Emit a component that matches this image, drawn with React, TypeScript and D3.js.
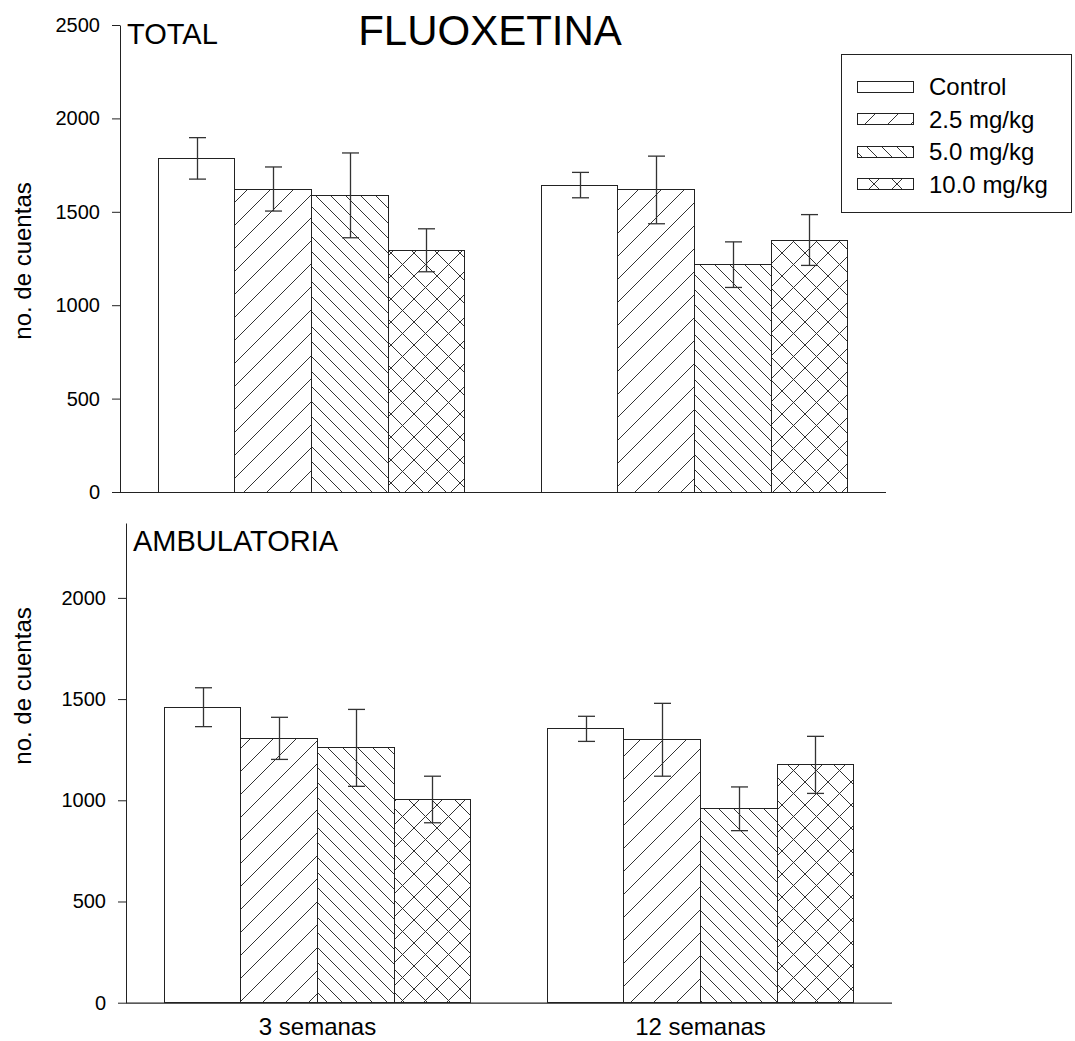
import { useEffect, useRef } from "react";
import * as d3 from "d3";

const GROUPS = ["3 semanas", "12 semanas"];
const DOSES = ["Control", "2.5 mg/kg", "5.0 mg/kg", "10.0 mg/kg"];
const FILLS = ["white", "url(#hFwd)", "url(#hBack)", "url(#hCross)"];

// TOTAL panel: means and error (per group, per dose)
const TOTAL_MEAN = [[1786, 1622, 1588, 1294], [1643, 1617, 1217, 1349]];
const TOTAL_ERR = [[111, 118, 227, 115], [68, 181, 122, 136]];
// AMBULATORIA panel
const AMB_MEAN = [[1460, 1306, 1259, 1004], [1353, 1299, 958, 1175]];
const AMB_ERR = [[96, 104, 190, 115], [62, 180, 108, 141]];

const Y_TICKS = [0, 500, 1000, 1500, 2000, 2500];

const FONT = "'Liberation Sans', Arial, sans-serif";
const INK = "#222";

export default function App() {
  const svgRef = useRef<SVGSVGElement | null>(null);

  useEffect(() => {
    if (!svgRef.current) return;
    const W = 1075, H = 1041;
    const svg = d3.select(svgRef.current);
    svg.selectAll("*").remove();
    svg.attr("width", W).attr("height", H).style("font-family", FONT);

    // hatch patterns
    const defs = svg.append("defs");
    const hatch = (id: string, s: number, d: string) => {
      const p = defs.append("pattern").attr("id", id)
        .attr("patternUnits", "userSpaceOnUse").attr("width", s).attr("height", s);
      p.append("rect").attr("width", s).attr("height", s).attr("fill", "white");
      p.append("path").attr("d", d).attr("stroke", "#333").attr("stroke-width", 1).attr("fill", "none");
    };
    const fwd = (s: number) => `M0,${s} L${s},0 M${-2},2 L2,${-2} M${s - 2},${s + 2} L${s + 2},${s - 2}`;
    const back = (s: number) => `M0,0 L${s},${s} M${-2},${s - 2} L2,${s + 2} M${s - 2},${-2} L${s + 2},2`;
    hatch("hFwd", 23, fwd(23));
    hatch("hBack", 15, back(15));
    hatch("hCross", 23, fwd(23) + " " + back(23));

    const panel = (opts: {
      left: number; right: number; top: number; zeroY: number; yMax: number;
      mean: number[][]; err: number[][]; title: string; labelY: number; showX: boolean;
    }) => {
      const { left, right, top, zeroY, yMax, mean, err, title, labelY, showX } = opts;
      const g = svg.append("g");
      const y = d3.scaleLinear().domain([0, yMax]).range([zeroY, top]);
      const x0 = d3.scaleBand<number>().domain(GROUPS.map((_, i) => i)).range([left, right]).padding(0);
      const x1 = d3.scaleBand<number>().domain(DOSES.map((_, i) => i)).range([0, x0.bandwidth()])
        .paddingInner(0).paddingOuter(0.5);

      // bars
      GROUPS.forEach((_, gi) => {
        DOSES.forEach((__, di) => {
          const bx = x0(gi)! + x1(di)!;
          const v = mean[gi][di];
          g.append("rect")
            .attr("x", bx).attr("y", y(v))
            .attr("width", x1.bandwidth()).attr("height", y(0) - y(v))
            .attr("fill", FILLS[di]).attr("stroke", INK).attr("stroke-width", 1)
            .attr("shape-rendering", "crispEdges");
        });
      });

      // error bars
      GROUPS.forEach((_, gi) => {
        DOSES.forEach((__, di) => {
          const cx = Math.round(x0(gi)! + x1(di)! + x1.bandwidth() / 2) + 0.5;
          const v = mean[gi][di], e = err[gi][di];
          const yt = y(v + e), yb = y(v - e);
          const eb = g.append("g").attr("stroke", "#333").attr("stroke-width", 1.3);
          eb.append("line").attr("x1", cx).attr("x2", cx).attr("y1", yt).attr("y2", yb);
          eb.append("line").attr("x1", cx - 8.5).attr("x2", cx + 8.5).attr("y1", yt).attr("y2", yt);
          eb.append("line").attr("x1", cx - 8.5).attr("x2", cx + 8.5).attr("y1", yb).attr("y2", yb);
        });
      });

      // y axis
      const ay = g.append("g").attr("transform", `translate(${left},0)`)
        .call(d3.axisLeft(y).tickValues(Y_TICKS.filter(t => t <= yMax)).tickFormat(d3.format("d"))
          .tickSize(8).tickSizeOuter(0).tickPadding(12))
        .attr("font-family", FONT);
      ay.select(".domain").attr("stroke", INK);
      ay.selectAll("line").attr("stroke", INK);
      ay.selectAll("text").attr("font-size", 20).attr("fill", "#000");

      // x axis line
      g.append("line").attr("x1", left).attr("x2", right).attr("y1", zeroY + 0.5).attr("y2", zeroY + 0.5)
        .attr("stroke", INK).attr("stroke-width", 1.2);

      if (showX) {
        GROUPS.forEach((label, gi) => {
          g.append("text")
            .attr("x", x0(gi)! + x0.bandwidth() / 2)
            .attr("y", zeroY + 32)
            .attr("text-anchor", "middle").attr("font-size", 24).attr("fill", "#000")
            .text(label);
        });
      }

      // panel title
      g.append("text").attr("x", left + 7).attr("y", top + (title === "TOTAL" ? 19 : 28))
        .attr("font-size", 29).attr("fill", "#000").text(title);

      // y label
      g.append("text")
        .attr("transform", "rotate(-90)")
        .attr("x", -labelY).attr("y", 31)
        .attr("text-anchor", "middle").attr("font-size", 24).attr("fill", "#000")
        .text("no. de cuentas");
    };

    panel({ left: 120, right: 886, top: 25, zeroY: 492, yMax: 2500, mean: TOTAL_MEAN, err: TOTAL_ERR,
      title: "TOTAL", labelY: 261, showX: false });
    panel({ left: 126, right: 892, top: 523, zeroY: 1002.7, yMax: 2370, mean: AMB_MEAN, err: AMB_ERR,
      title: "AMBULATORIA", labelY: 686, showX: true });

    // main title
    svg.append("text").attr("x", 490).attr("y", 45)
      .attr("text-anchor", "middle").attr("font-size", 42).attr("fill", "#000")
      .text("FLUOXETINA");

    // legend
    const lg = svg.append("g");
    lg.append("rect").attr("x", 841.5).attr("y", 54.5).attr("width", 230).attr("height", 158)
      .attr("fill", "white").attr("stroke", INK).attr("stroke-width", 1);
    DOSES.forEach((label, i) => {
      const ry = 81 + i * 32.5;
      lg.append("rect").attr("x", 857).attr("y", ry).attr("width", 56).attr("height", 11)
        .attr("fill", FILLS[i]).attr("stroke", INK).attr("stroke-width", 1).attr("shape-rendering", "crispEdges");
      lg.append("text").attr("x", 929).attr("y", ry + 14)
        .attr("font-size", 24).attr("fill", "#000").text(label);
    });
  }, []);

  return (
    <div style={{ position: "absolute", left: 0, top: 0, background: "white" }}>
      <svg ref={svgRef} style={{ display: "block" }} />
    </div>
  );
}
